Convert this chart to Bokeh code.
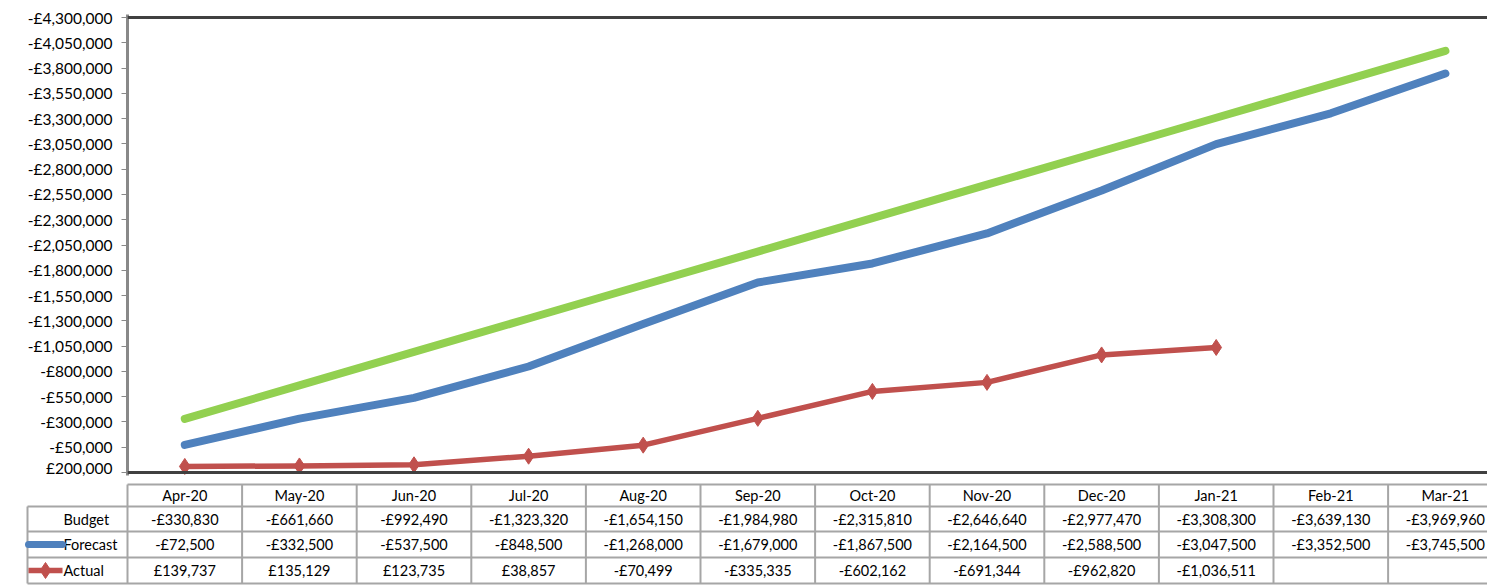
from bokeh.plotting import figure
from bokeh.models import Range1d, FixedTicker, Span
from bokeh.core.properties import value
from bokeh.embed import file_html
from bokeh.resources import INLINE

months = ["Apr-20", "May-20", "Jun-20", "Jul-20", "Aug-20", "Sep-20",
          "Oct-20", "Nov-20", "Dec-20", "Jan-21", "Feb-21", "Mar-21"]
budget = [-330830, -661660, -992490, -1323320, -1654150, -1984980,
          -2315810, -2646640, -2977470, -3308300, -3639130, -3969960]
forecast = [-72500, -332500, -537500, -848500, -1268000, -1679000,
            -1867500, -2164500, -2588500, -3047500, -3352500, -3745500]
actual = [139737, 135129, 123735, 38857, -70499, -335335,
          -602162, -691344, -962820, -1036511]
y_ticks = [200000 - 250000 * k for k in range(19)]


def gbp(v):
    return ("-" if v < 0 else "") + "£{:,}".format(abs(v))


GREEN = "#92D050"
BLUE = "#4F81BD"
RED = "#C0504D"
FONT = "Lato"

W = 1487
PX = 114.6            # pixels per category
FRAME_LEFT = 127
x_end = -0.5 + (W - FRAME_LEFT) / PX
x = list(range(len(months)))

# y range with a 3px pad above and below
y_lo, y_hi = 200000, -4300000
per_px = (y_lo - y_hi) / 455.0
pad = 3 * per_px

p = figure(width=W, height=476, x_range=Range1d(-0.5, x_end),
           y_range=Range1d(y_lo + pad, y_hi - pad),
           output_backend="svg", toolbar_location=None,
           x_axis_location=None, min_border_left=FRAME_LEFT,
           min_border_right=0, min_border_top=14, min_border_bottom=1,
           outline_line_color=None)
p.grid.visible = False
ax = p.yaxis[0]
ax.ticker = FixedTicker(ticks=y_ticks)
ax.major_label_overrides = {t: gbp(t) for t in y_ticks}
ax.axis_line_color = "#898989"
ax.axis_line_width = 3
ax.major_tick_line_color = "#898989"
ax.major_tick_line_width = 1
ax.major_tick_in = 0
ax.major_tick_out = 6
ax.minor_tick_line_color = None
ax.major_label_standoff = 9
ax.major_label_text_font = FONT
ax.major_label_text_font_size = "15.5px"
ax.major_label_text_color = "#000000"

p.add_layout(Span(location=y_hi, dimension="width", line_color="#404040", line_width=3))
p.add_layout(Span(location=y_lo, dimension="width", line_color="#404040", line_width=3))

p.line(x, budget, line_color=GREEN, line_width=8, line_cap="round", line_join="round")
p.line(x, forecast, line_color=BLUE, line_width=8, line_cap="round", line_join="round")
na = len(actual)
p.line(x[:na], actual, line_color=RED, line_width=5.5, line_cap="round", line_join="round")
p.scatter(x[:na], actual, marker="diamond", size=16, color=RED)

# ---- data table (separate root, so its frame is not aligned with the chart) ----
TH = 109
t = figure(width=W, height=TH, x_range=Range1d(-0.5 - FRAME_LEFT / PX, x_end),
           y_range=Range1d(TH, 0), output_backend="svg", toolbar_location=None,
           x_axis_location=None, y_axis_location=None,
           min_border_left=0, min_border_right=0, min_border_top=0, min_border_bottom=0,
           outline_line_color=None)
t.grid.visible = False

rows_y = [8, 30, 55, 81, 107]
label_left = -0.5 - 100 / PX
grid_col = "#A6A6A6"
# horizontal lines
t.segment(x0=[-0.5] + [label_left] * 4, y0=rows_y, x1=[x_end] * 5, y1=rows_y,
          line_color=grid_col, line_width=2)
# vertical lines
vx = [i - 0.5 for i in range(len(months) + 1)]
t.segment(x0=vx, y0=[rows_y[0]] * len(vx), x1=vx, y1=[rows_y[-1]] * len(vx),
          line_color=grid_col, line_width=2)
t.segment(x0=[label_left], y0=[rows_y[1]], x1=[label_left], y1=[rows_y[-1]],
          line_color=grid_col, line_width=2)

centers = [(rows_y[i] + rows_y[i + 1]) / 2 for i in range(4)]
tkw = dict(text_font=value(FONT), text_font_size="14.5px", text_color="#000000",
           text_baseline="middle")
t.text(x=x, y=[centers[0]] * len(x), text=months, text_align="center", **tkw)
t.text(x=x, y=[centers[1]] * len(x), text=[gbp(v) for v in budget], text_align="center", **tkw)
t.text(x=x, y=[centers[2]] * len(x), text=[gbp(v) for v in forecast], text_align="center", **tkw)
t.text(x=x[:na], y=[centers[3]] * na, text=[gbp(v) for v in actual], text_align="center", **tkw)

lab_x = -0.5 - 64 / PX
t.text(x=[lab_x] * 3, y=centers[1:], text=["Budget", "Forecast", "Actual"],
       text_align="left", **tkw)
# legend keys
k0 = -0.5 - 99 / PX
k1 = -0.5 - 65 / PX
t.line([k0, k1], [centers[2]] * 2, line_color=BLUE, line_width=7, line_cap="round")
t.line([k0, k1], [centers[3]] * 2, line_color=RED, line_width=5.5)
t.scatter([(k0 + k1) / 2], [centers[3]], marker="diamond", size=16, color=RED)

open("out.html", "w").write(file_html([p, t], INLINE))
